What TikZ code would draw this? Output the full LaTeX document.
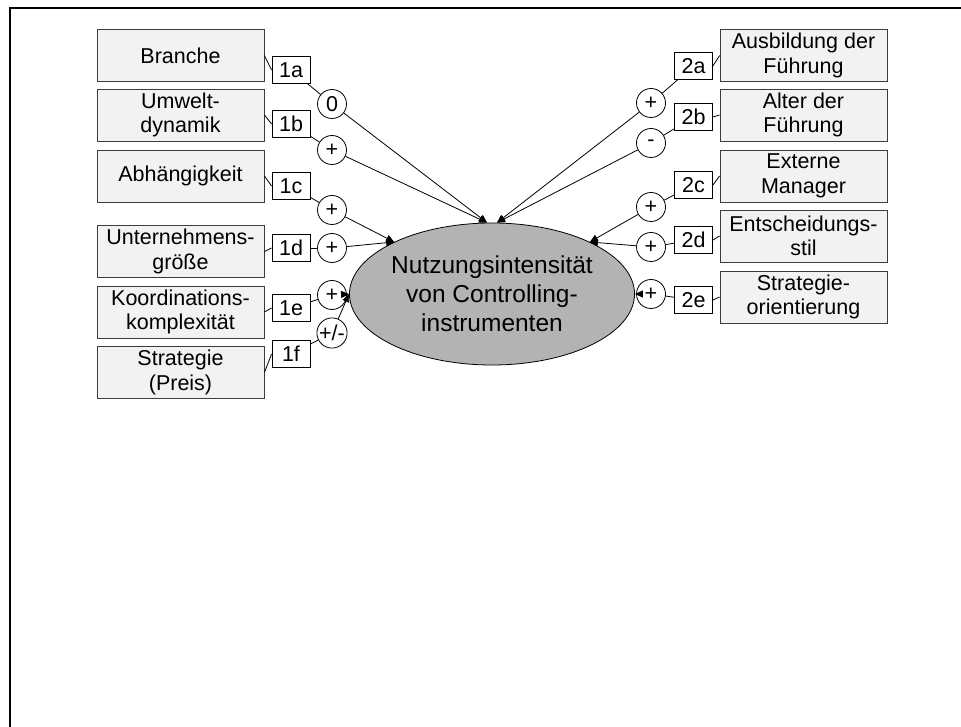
\documentclass[tikz,border=0pt]{standalone}
\usepackage{fontspec}
\setmainfont{Liberation Sans}
\usetikzlibrary{arrows.meta,shapes.geometric}
\definecolor{boxfill}{RGB}{242,242,242}
\definecolor{boxline}{RGB}{60,60,60}
\definecolor{ellfill}{RGB}{179,179,179}
\begin{document}
\begin{tikzpicture}[x=1pt,y=-1pt,
  bigbox/.style={draw=boxline, fill=boxfill, line width=0.8pt, minimum width=167pt, minimum height=52pt, inner sep=0pt, align=center, font=\fontsize{21.5}{24.5}\selectfont},
  tagbox/.style={draw=black, fill=white, line width=0.8pt, minimum width=38pt, minimum height=27pt, inner sep=0pt, font=\fontsize{21.5}{24}\selectfont},
  sign/.style={circle, draw=black, fill=white, line width=0.8pt, minimum size=29pt, inner sep=0pt, font=\fontsize{21.5}{24}\selectfont},
  arr/.style={-{Triangle[length=8pt,width=7pt]}, line width=0.8pt},
  link/.style={line width=0.8pt}]
\useasboundingbox (0,0) rectangle (961,727);
\draw[line width=2.2pt] (965,8) -- (10,8) -- (10,731);

% central ellipse
\node[ellipse, draw=black, fill=ellfill, line width=0.8pt, minimum width=261pt, minimum height=142pt, inner sep=0pt, align=center, font=\fontsize{24.5}{29}\selectfont] (E) at (492,294) {Nutzungsintensität\\von Controlling-\\instrumenten};

% left boxes
\node[bigbox] (b1a) at (180.5,55.5) {Branche};
\node[bigbox] (b1b) at (180.5,115) {Umwelt-\\dynamik};
\node[bigbox] (b1c) at (180.5,176) {Abhängigkeit};
\node[bigbox] (b1d) at (180.5,251.5) {Unternehmens-\\größe};
\node[bigbox] (b1e) at (180.5,312) {Koordinations-\\komplexität};
\node[bigbox] (b1f) at (180.5,372.5) {Strategie\\(Preis)};

\node[tagbox] (t1a) at (291,70) {1a};
\node[tagbox] (t1b) at (291,124) {1b};
\node[tagbox] (t1c) at (291,186) {1c};
\node[tagbox] (t1d) at (291,248) {1d};
\node[tagbox] (t1e) at (291,308) {1e};
\node[tagbox] (t1f) at (291,354) {1f};

\node[sign] (c1a) at (332,104) {0};
\node[sign] (c1b) at (332,150) {+};
\node[sign] (c1c) at (332,210) {+};
\node[sign] (c1d) at (332,248) {+};
\node[sign] (c1e) at (332,295) {+};
\node[sign] (c1f) at (332,333) {+/-};

% right boxes
\node[bigbox] (b2a) at (803.5,55.5) {Ausbildung der\\Führung};
\node[bigbox] (b2b) at (803.5,115) {Alter der\\Führung};
\node[bigbox] (b2c) at (803.5,176) {Externe\\Manager};
\node[bigbox] (b2d) at (803.5,236) {Entscheidungs-\\stil};
\node[bigbox] (b2e) at (803.5,297) {Strategie-\\orientierung};

\node[tagbox] (t2a) at (693.5,66) {2a};
\node[tagbox] (t2b) at (693.5,117) {2b};
\node[tagbox] (t2c) at (693.5,185) {2c};
\node[tagbox] (t2d) at (693.5,240) {2d};
\node[tagbox] (t2e) at (693.5,300) {2e};

\node[sign] (c2a) at (651,103) {+};
\node[sign] (c2b) at (651,143) {-};
\node[sign] (c2c) at (651,207) {+};
\node[sign] (c2d) at (651,247) {+};
\node[sign] (c2e) at (651,294) {+};

% links box -> tag
\foreach \k in {1a,1b,1c,1d,1e,1f}{\draw[link] (b\k.east) -- (t\k.west);}
\foreach \k in {2a,2b,2c,2d,2e}{\draw[link] (b\k.west) -- (t\k.east);}
% links tag -> sign
\foreach \k in {1a,1b,1c,1d,1e,1f,2a,2b,2c,2d,2e}{\draw[link] (t\k) -- (c\k);}

% arrows to ellipse
\draw[arr] (c1a) -- (E.94);
\draw[arr] (c1b) -- (E.94);
\draw[arr] (c1c) -- (E.152);
\draw[arr] (c1d) -- (E.152);
\draw[arr] (c1e) -- (E.180);
\draw[arr] (c1f) -- (E.180);
\draw[arr] (c2a) -- (E.86);
\draw[arr] (c2b) -- (E.86);
\draw[arr] (c2c) -- (E.28);
\draw[arr] (c2d) -- (E.28);
\draw[arr] (c2e) -- (E.0);
\end{tikzpicture}
\end{document}
